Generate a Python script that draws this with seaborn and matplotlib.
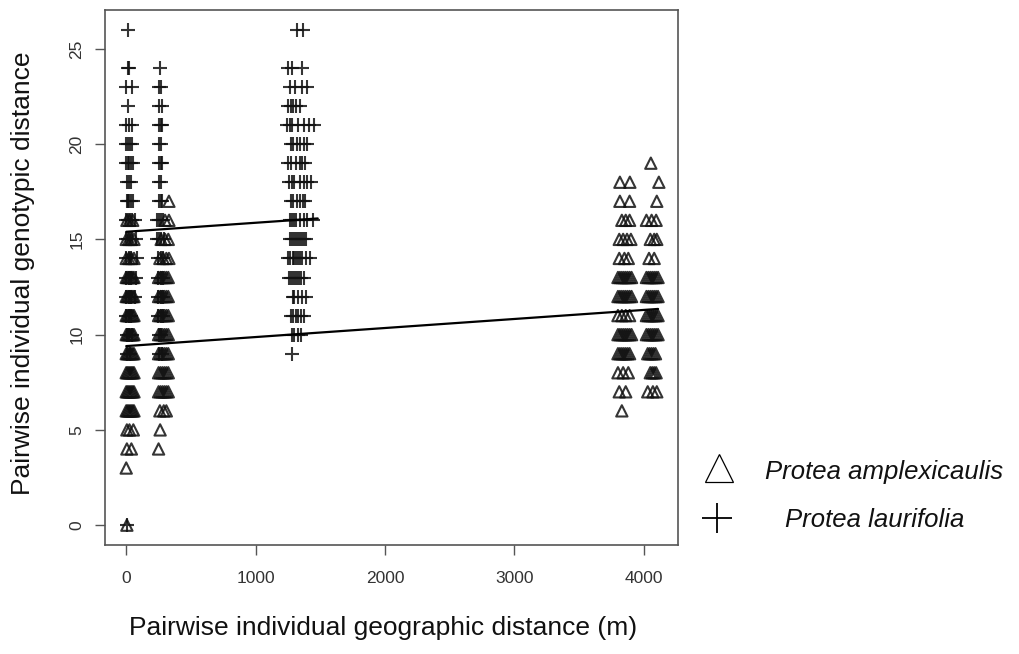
import matplotlib
matplotlib.use("Agg")
import matplotlib.pyplot as plt
from matplotlib.lines import Line2D
import seaborn as sns
import pandas as pd

# ---------------- data ----------------
# Protea laurifolia: genotypic distance levels and the geographic distances (m) at each level
laur_levels = [26, 24, 23, 22, 21, 20, 19, 18, 17, 16, 15, 14, 13, 12, 11, 10, 9, 0]
laur_dists = [
    [15, 1320, 1367],
    [10, 25, 262, 1250, 1282, 1360],
    [0, 45, 250, 265, 1266, 1305, 1360, 1398],
    [15, 255, 275, 1250, 1270, 1290, 1310, 1340],
    [0, 20, 45, 250, 265, 280, 1240, 1265, 1280, 1330, 1370, 1410, 1450],
    [0, 15, 30, 45, 255, 270, 1270, 1290, 1320, 1345, 1370, 1400],
    [0, 10, 20, 35, 50, 255, 270, 280, 1250, 1270, 1310, 1340, 1360, 1380],
    [5, 25, 40, 250, 270, 1260, 1280, 1300, 1340, 1370, 1400, 1430],
    [5, 15, 25, 40, 55, 250, 265, 280, 1270, 1290, 1320, 1345, 1365, 1385],
    [0, 15, 30, 45, 70, 240, 255, 270, 285, 1265, 1280, 1295, 1310, 1340, 1370, 1400, 1440],
    [0, 15, 30, 45, 75, 240, 255, 270, 290, 1265, 1280, 1295, 1310, 1325, 1340, 1355, 1370, 1390],
    [0, 20, 40, 80, 245, 265, 285, 1250, 1265, 1285, 1300, 1315, 1330, 1345, 1360, 1390, 1420],
    [0, 20, 40, 75, 245, 265, 285, 1260, 1275, 1290, 1305, 1320, 1335, 1350, 1375],
    [0, 20, 40, 70, 245, 265, 285, 1285, 1300, 1330, 1360, 1390],
    [0, 20, 40, 245, 265, 285, 1270, 1290, 1310, 1330, 1350, 1375],
    [5, 25, 45, 250, 270, 1280, 1300, 1330, 1350],
    [5, 30, 255, 275, 1282],
    [5],
]

# Protea amplexicaulis
amp_levels = [19, 18, 17, 16, 15, 14, 13, 12, 11, 10, 9, 8, 7, 6, 5, 4, 3, 0]
amp_dists = [
    [4054],
    [3815, 3892, 4116],
    [330, 3815, 3890, 4100],
    [5, 25, 50, 300, 330, 3830, 3860, 3890, 4020, 4060, 4095],
    [0, 20, 40, 60, 270, 300, 325, 3810, 3840, 3870, 3900, 4050, 4080, 4100],
    [0, 20, 40, 60, 260, 285, 310, 330, 3810, 3850, 3880, 4040, 4080],
    [0, 10, 20, 30, 40, 50, 60, 250, 265, 280, 295, 310, 325, 3800, 3815, 3830, 3845, 3860, 3875, 3890, 3905, 4020, 4035, 4050, 4065, 4080, 4095, 4110],
    [0, 10, 20, 30, 40, 50, 60, 250, 265, 280, 295, 310, 325, 3800, 3815, 3830, 3845, 3860, 3875, 3890, 3905, 4020, 4035, 4050, 4065, 4080, 4095, 4110],
    [0, 10, 20, 30, 40, 50, 60, 250, 265, 280, 295, 310, 325, 3800, 3830, 3860, 3890, 4020, 4035, 4050, 4065, 4080, 4095, 4110],
    [0, 10, 20, 30, 40, 50, 60, 250, 265, 280, 295, 310, 325, 3800, 3815, 3830, 3845, 3860, 3875, 3890, 3905, 4020, 4035, 4050, 4065, 4080, 4095, 4110],
    [0, 10, 20, 30, 40, 50, 60, 250, 265, 280, 295, 310, 325, 3800, 3815, 3830, 3845, 3860, 3875, 3890, 4030, 4045, 4060, 4075, 4090],
    [0, 10, 20, 30, 40, 50, 60, 250, 265, 280, 295, 310, 325, 3800, 3840, 3880, 4050, 4065, 4080, 4095],
    [0, 10, 20, 30, 40, 50, 60, 250, 265, 280, 295, 310, 325, 3810, 3860, 4030, 4070, 4100],
    [0, 10, 20, 30, 40, 50, 60, 260, 290, 310, 3830],
    [5, 25, 55, 262],
    [5, 40, 250],
    [0],
    [5],
]

# fitted lines (end points)
laur_fit_x = [0, 1480]
laur_fit_y = [15.4, 16.1]
amp_fit_x = [0, 4110]
amp_fit_y = [9.4, 11.35]

x_ticks = [0, 1000, 2000, 3000, 4000]
y_ticks = [0, 5, 10, 15, 20, 25]
x_label = "Pairwise individual geographic distance (m)"
y_label = "Pairwise individual genotypic distance"
species = ["Protea amplexicaulis", "Protea laurifolia"]

# ---------------- build tables ----------------
def to_frame(levels, dists):
    rows = []
    for lv, ds in zip(levels, dists):
        for d in ds:
            rows.append((d, lv))
    return pd.DataFrame(rows, columns=["geo", "gen"])

laur = to_frame(laur_levels, laur_dists)
amp = to_frame(amp_levels, amp_dists)

# ---------------- plot ----------------
sns.set_style("ticks")
plt.rcParams["font.family"] = ["Liberation Sans", "DejaVu Sans"]

fig = plt.figure(figsize=(10.2, 6.54), dpi=100)
ax = fig.add_axes([105 / 1020, 109 / 654, 573 / 1020, 535 / 654])

mk_col = "#111111"
sns.scatterplot(data=amp, x="geo", y="gen", marker="^", s=66, facecolor="none",
                edgecolor=mk_col, linewidth=1.5, alpha=0.85, ax=ax, legend=False)
sns.scatterplot(data=laur, x="geo", y="gen", marker="+", s=95, color=mk_col,
                linewidth=1.5, alpha=0.85, ax=ax, legend=False)

sns.lineplot(x=laur_fit_x, y=laur_fit_y, color="black", linewidth=1.6, ax=ax)
sns.lineplot(x=amp_fit_x, y=amp_fit_y, color="black", linewidth=1.6, ax=ax)

ax.set_xlim(-164, 4264)
ax.set_ylim(-1.04, 27.04)
ax.set_xticks(x_ticks)
ax.set_xticklabels([str(v) for v in x_ticks])
ax.set_yticks(y_ticks)
ax.set_yticklabels([str(v) for v in y_ticks], rotation=90, va="center")
ax.tick_params(direction="out", length=7, width=1, color="#555555",
               labelsize=12.5, labelcolor="#333333")
ax.tick_params(axis="x", pad=12)
ax.tick_params(axis="y", pad=8)

for sp in ax.spines.values():
    sp.set_visible(True)
    sp.set_color("#555555")
    sp.set_linewidth(1.2)

ax.set_xlabel(x_label, fontsize=19, color="#111111")
ax.set_ylabel(y_label, fontsize=19, color="#111111")
ax.xaxis.set_label_coords((383 - 105) / 573, (545 - 628) / 535)
ax.xaxis.label.set_va("center")
ax.yaxis.set_label_coords((23 - 105) / 573, (545 - 273) / 535)
ax.yaxis.label.set_va("center")

# legend placed outside the axes, as in the reference
fig.add_artist(Line2D([719 / 1020], [1 - 468 / 654], transform=fig.transFigure,
                      marker="^", markersize=20, markerfacecolor="none",
                      markeredgecolor="black", markeredgewidth=0.9, linestyle="none"))
fig.add_artist(Line2D([717 / 1020], [1 - 518 / 654], transform=fig.transFigure,
                      marker="+", markersize=21, markeredgecolor="black",
                      markeredgewidth=1.3, linestyle="none"))
fig.text(765 / 1020, 1 - 472 / 654, species[0], style="italic", fontsize=18.5,
         va="center", ha="left", color="#111111")
fig.text(785 / 1020, 1 - 520 / 654, species[1], style="italic", fontsize=18.5,
         va="center", ha="left", color="#111111")

fig.savefig("out.png", dpi=100)
